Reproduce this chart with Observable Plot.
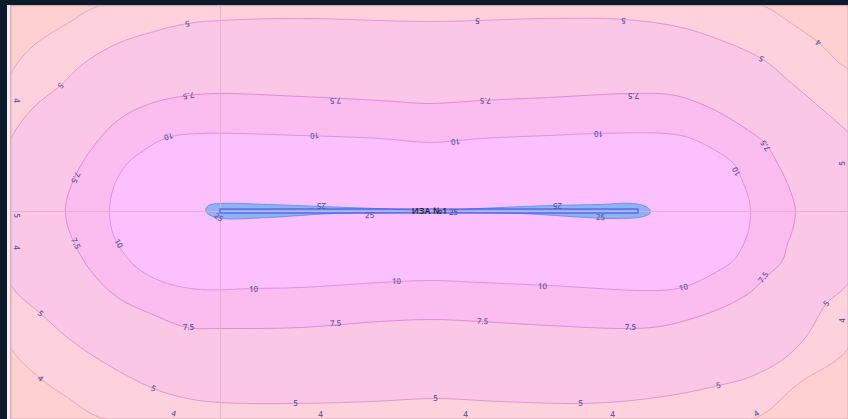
<!DOCTYPE html>
<html>
<head>
<meta charset="utf-8">
<script src="https://cdn.jsdelivr.net/npm/d3@7"></script>
<script src="https://cdn.jsdelivr.net/npm/@observablehq/plot@0.6"></script>
<style>
  html, body { margin: 0; padding: 0; background: #0d1a2c; width: 848px; height: 419px; overflow: hidden; }
  #map { position: absolute; left: 7px; top: 5px; border-left: 3px solid #f3eff2; }
  #map svg { display: block; }
</style>
</head>
<body>
<div id="map"></div>
<script>
// Local coordinates: x to the east, y to the north, origin at the middle of source ИЗА №1.

// Isolines of ground-level concentration (closed rings, [x, y]).
const ring4 = [
  [-418,141],[-397,166],[-363,188],[-330,206],[-257,210],[-110,212],[35,212],[182,211],[270,210],[331,206],
  [361,188],[388,169],[408,149],[418,141],[428,101],[436,51],[438,0],[436,-49],[428,-99],[416,-139],
  [368,-172],[326,-206],[270,-210],[182,-211],[35,-212],[-110,-212],[-257,-210],[-330,-206],[-363,-186],
  [-390,-167],[-418,-139],[-430,-109],[-438,-59],[-442,0],[-438,61],[-430,111]
];
const ring5 = [
  [-418,76],[-397,104],[-370,126],[-347,148],[-313,168],[-280,179],[-243,188],[-210,191],[-130,193],[0,190],
  [118,193],[195,192],[251,184],[291,171],[331,153],[358,131],[385,108],[408,88],[418,78],[428,46],[432,0],
  [428,-46],[416,-74],[396,-92],[375,-126],[351,-149],[318,-166],[288,-174],[251,-182],[201,-189],[150,-192],
  [70,-190],[5,-187],[-60,-190],[-135,-192],[-210,-191],[-243,-187],[-277,-177],[-330,-149],[-363,-126],
  [-390,-102],[-418,-76],[-428,-46],[-432,0],[-428,46]
];
const ring7_5 = [
  [-340,61],[-313,91],[-280,108],[-242,116],[-213,118],[-130,115],[-50,111],[0,108],[50,111],[118,114],
  [201,118],[245,116],[285,101],[318,81],[335,68],[347,48],[357,28],[363,11],[365,0],[362,-19],[357,-32],
  [352,-49],[335,-66],[318,-82],[285,-99],[235,-114],[201,-117],[118,-114],[50,-110],[0,-108],[-50,-110],
  [-130,-116],[-210,-117],[-243,-116],[-280,-102],[-313,-86],[-340,-59],[-355,-34],[-363,-14],[-365,0],
  [-364,11],[-355,36]
];
const ring10 = [
  [-287,61],[-263,74],[-230,78],[-130,76],[-50,73],[0,69],[50,73],[118,76],[168,78],[235,78],[258,74],
  [285,61],[303,48],[313,28],[318,14],[320,0],[318,-19],[310,-39],[303,-49],[285,-61],[255,-75],[228,-79],
  [118,-74],[50,-71],[0,-69],[-50,-71],[-130,-76],[-177,-77],[-230,-78],[-263,-72],[-290,-59],[-305,-44],
  [-317,-24],[-321,0],[-317,24],[-305,46]
];
const ring25 = [
  [0,0.5],[-30,2],[-110,5],[-163,7],[-210,8],[-222,6],[-225,1],[-222,-3],[-207,-7],[-163,-6],[-97,-2],
  [-30,-1],[0,-0.5],[23,-1],[90,-2],[157,-6],[190,-7],[213,-5],[220,-1],[217,4],[203,8],[170,7],[123,6],
  [70,4],[30,2]
];

// Source ИЗА №1 (linear source footprint).
const source = [{x1: -210, x2: 208, y1: -2, y2: 2, name: "ИЗА №1"}];

// Isoline labels: [text, x, y, angle].
const labels = [
  ["4",-414,111,90],["4",-414,-36,90],["4",-390,-167,40],["4",-257,-202,15],["4",-110,-203,0],
  ["4",35,-203,0],["4",182,-203,0],["4",326,-202,-35],["4",412,-109,-90],["4",388,169,-145],
  ["5",-370,126,139],["5",-243,188,170],["5",47,191,180],["5",193,191,184],["5",331,153,-150],
  ["5",412,48,-90],["5",-414,-4,90],["5",-390,-102,42],["5",-277,-177,24],["5",-135,-192,0],
  ["5",5,-187,0],["5",150,-192,0],["5",288,-174,-13],["5",396,-92,-52],
  ["7.5",-242,116,171],["7.5",-95,111,177],["7.5",55,111,183],["7.5",203,116,180],["7.5",335,66,-125],
  ["7.5",-355,34,115],["7.5",-355,-32,63],["7.5",-242,-116,0],["7.5",-95,-112,-3],["7.5",52,-110,3],
  ["7.5",200,-116,0],["7.5",333,-66,-55],
  ["10",-262,75,165],["10",-116,76,178],["10",25,70,175],["10",168,78,180],["10",306,40,-118],
  ["10",-312,-32,60],["10",-177,-78,0],["10",-34,-70,3],["10",112,-75,3],["10",253,-76,-12],
  ["25",-109,6,180],["25",-61,-4,-3],["25",-212,-6,35],["25",23,-1,0],["25",127,6,180],["25",170,-6,3]
];

const bands = [
  {pts: ring4,   fill: "#fdd2dc", stroke: "#e9a6c2"},
  {pts: ring5,   fill: "#fbc7e6", stroke: "#e596cf"},
  {pts: ring7_5, fill: "#fbbcef", stroke: "#e08cd6"},
  {pts: ring10,  fill: "#fdc0fe", stroke: "#dc93e4"},
  {pts: ring25,  fill: "#8fb2f6", stroke: "#6e94ec"}
];

const chart = Plot.plot({
  width: 838,
  height: 414,
  margin: 0,
  x: {domain: [-420, 418], axis: null},
  y: {domain: [-208, 206], axis: null},
  style: {background: "#ffd0d0", fontFamily: "'Open Sans', sans-serif", overflow: "hidden"},
  marks: [
    ...bands.map(b => Plot.line(b.pts, {
      x: d => d[0], y: d => d[1],
      curve: "catmull-rom-closed",
      fill: b.fill, stroke: b.stroke, strokeWidth: 1
    })),
    Plot.ruleX(source, {x: "x1", stroke: "#e3a9c4", strokeWidth: 1, strokeOpacity: 0.8}),
    Plot.ruleY(source, {y: d => (d.y1 + d.y2) / 2, stroke: "#e3a9c4", strokeWidth: 1, strokeOpacity: 0.8}),
    Plot.rect(source, {x1: "x1", x2: "x2", y1: "y1", y2: "y2", fill: "none", stroke: "#2f4ee8", strokeWidth: 1}),
    Plot.text(labels, {
      x: d => d[1], y: d => d[2], text: d => d[0], rotate: d => d[3],
      fill: "#5d5fa3", fontSize: 8, fontWeight: 600
    }),
    Plot.text(source, {
      x: d => (d.x1 + d.x2) / 2, y: d => (d.y1 + d.y2) / 2, text: "name",
      fill: "#22222c", fontSize: 9, fontWeight: 600
    }),
    Plot.frame({stroke: "#d9afbb", strokeWidth: 2})
  ]
});
document.getElementById("map").appendChild(chart);
</script>
</body>
</html>
